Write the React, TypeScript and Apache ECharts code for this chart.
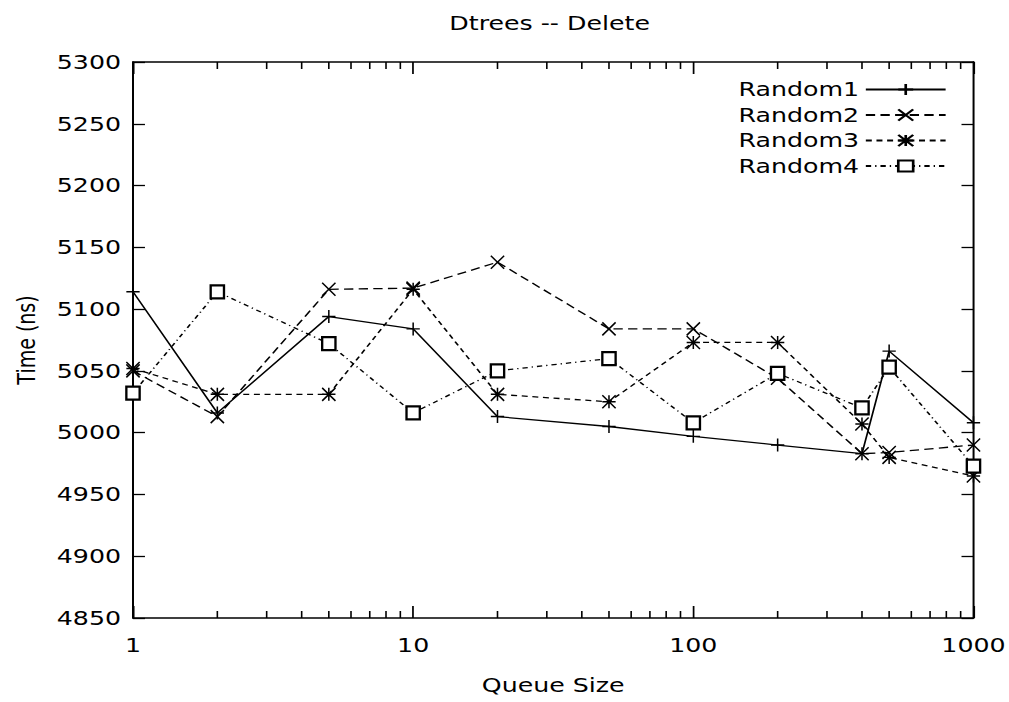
import React, { useEffect, useRef } from "react";
import * as echarts from "echarts";

// Queue sizes (log scale) and measured delete times in ns
const queueSizes = [1, 2, 5, 10, 20, 50, 100, 200, 400, 500, 1000];
const random1 = [5114, 5016, 5094, 5084, 5013, 5005, 4997, 4990, 4983, 5066, 5008];
const random2 = [5050, 5013, 5116, 5117, 5138, 5084, 5084, 5044, 4983, 4984, 4990];
const random3 = [5052, 5031, 5031, 5116, 5031, 5025, 5073, 5073, 5007, 4980, 4965];
const random4 = [5032, 5114, 5072, 5016, 5050, 5060, 5008, 5048, 5020, 5053, 4973];

const seriesNames = ["Random1", "Random2", "Random3", "Random4"];
const minorTicks = [2, 3, 4, 5, 6, 7, 8, 9, 20, 30, 40, 50, 60, 70, 80, 90, 200, 300, 400, 500, 600, 700, 800, 900];

const Y_MIN = 4850;
const Y_MAX = 5300;
const Y_STEP = 50;

// The plot is drawn on a narrower canvas and widened horizontally
const SX = 1.33;
const OUT_W = 1009;
const OUT_H = 702;
const W = OUT_W / SX;

const FONT = "DejaVu Sans";

const PLUS = "path://M0,5L10,5M5,0L5,10";
const CROSS = "path://M0,0L10,10M10,0L0,10";
const STAR = "path://M0,0L10,10M10,0L0,10M5,0L5,10M0,5L10,5";

const plain = (v: number) => String(v);

export default function App() {
  const ref = useRef<HTMLDivElement>(null);

  useEffect(() => {
    if (!ref.current) return;
    const chart = echarts.init(ref.current, null, { renderer: "svg" });

    const pairs = (vals: number[]) => queueSizes.map((q, i) => [q, vals[i]]);

    const lineSeries = (name: string, vals: number[], symbol: string, dash: any) => ({
      name,
      type: "line",
      xAxisIndex: 0,
      yAxisIndex: 0,
      data: pairs(vals),
      symbol,
      symbolSize: [10, 13],
      showAllSymbol: true,
      lineStyle: { color: "#000", width: 1.3, type: dash },
      itemStyle: { color: "#000", borderColor: "#000", borderWidth: 1.3 },
      z: 3,
    });

    const axisLine = { show: true, lineStyle: { color: "#000", width: 1.5 } };

    chart.setOption({
      animation: false,
      backgroundColor: "#fff",
      title: {
        text: "Dtrees -- Delete",
        left: 543 / SX,
        top: 9,
        textAlign: "center",
        textStyle: { fontFamily: FONT, fontSize: 19, fontWeight: "normal", color: "#000" },
      },
      legend: {
        data: seriesNames,
        right: 42,
        top: 75,
        orient: "vertical",
        align: "right",
        itemWidth: 60,
        itemHeight: 14,
        itemGap: 6.5,
        textStyle: { fontFamily: FONT, fontSize: 19, color: "#000", lineHeight: 19 },
      },
      grid: {
        left: 133 / SX,
        right: 36 / SX,
        top: 62,
        bottom: 84,
        containLabel: false,
        outerBoundsMode: "none",
      },
      xAxis: [
        {
          type: "log",
          logBase: 10,
          min: 1,
          max: 1000,
          position: "bottom",
          name: "Queue Size",
          nameLocation: "middle",
          nameGap: 58,
          nameTextStyle: { fontFamily: FONT, fontSize: 19, color: "#000" },
          axisLine,
          axisTick: { show: true, inside: true, length: 12, lineStyle: { color: "#000", width: 1.3 } },
          axisLabel: {
            show: true,
            margin: 18,
            fontFamily: FONT,
            fontSize: 19,
            color: "#000",
            showMinLabel: true,
            showMaxLabel: true,
            formatter: plain,
          },
          splitLine: { show: false },
        },
        {
          type: "log",
          logBase: 10,
          min: 1,
          max: 1000,
          position: "top",
          axisLine,
          axisTick: { show: true, inside: true, length: 12, lineStyle: { color: "#000", width: 1.3 } },
          axisLabel: { show: false },
          splitLine: { show: false },
        },
      ],
      yAxis: [
        {
          type: "value",
          min: Y_MIN,
          max: Y_MAX,
          interval: Y_STEP,
          position: "left",
          name: "Time (ns)",
          nameLocation: "middle",
          nameGap: 71,
          nameRotate: 90,
          nameTextStyle: { fontFamily: FONT, fontSize: 19, color: "#000" },
          axisLine,
          axisTick: { show: true, inside: true, length: 9, lineStyle: { color: "#000", width: 1.3 } },
          axisLabel: { margin: 9, fontFamily: FONT, fontSize: 19, color: "#000", formatter: plain },
          splitLine: { show: false },
        },
        {
          type: "value",
          min: Y_MIN,
          max: Y_MAX,
          interval: Y_STEP,
          position: "right",
          axisLine,
          axisTick: { show: true, inside: true, length: 9, lineStyle: { color: "#000", width: 1.3 } },
          axisLabel: { show: false },
          splitLine: { show: false },
        },
      ],
      series: [
        lineSeries("Random1", random1, PLUS, "solid"),
        lineSeries("Random2", random2, CROSS, [7, 4]),
        lineSeries("Random3", random3, STAR, [4.5, 3.5]),
        lineSeries("Random4", random4, "emptyRect", [4, 3, 1, 3]),
        {
          // minor log ticks on the bottom and top frame edges
          type: "custom",
          xAxisIndex: 0,
          yAxisIndex: 0,
          silent: true,
          clip: false,
          z: 2,
          data: minorTicks.map((v) => [v, Y_MIN]),
          encode: { x: 0, y: 1 },
          renderItem: (_params: any, api: any) => {
            const v = api.value(0);
            const b = api.coord([v, Y_MIN]);
            const t = api.coord([v, Y_MAX]);
            const style = { stroke: "#000", lineWidth: 1.2 };
            return {
              type: "group",
              children: [
                { type: "line", shape: { x1: b[0], y1: b[1], x2: b[0], y2: b[1] - 7 }, style },
                { type: "line", shape: { x1: t[0], y1: t[1], x2: t[0], y2: t[1] + 7 }, style },
              ],
            };
          },
        },
      ],
    });

    return () => chart.dispose();
  }, []);

  return (
    <div
      style={{
        position: "absolute",
        left: 0,
        top: 0,
        width: OUT_W,
        height: OUT_H,
        overflow: "hidden",
        background: "#fff",
      }}
    >
      <div
        ref={ref}
        style={{
          width: W,
          height: OUT_H,
          transform: `scaleX(${SX})`,
          transformOrigin: "0 0",
        }}
      />
    </div>
  );
}
